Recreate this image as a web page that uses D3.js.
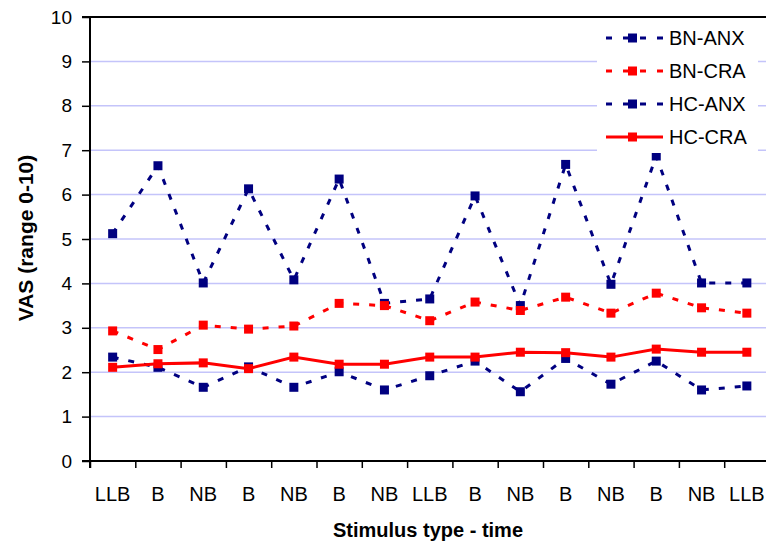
<!DOCTYPE html>
<html>
<head>
<meta charset="utf-8">
<script src="https://d3js.org/d3.v7.min.js"></script>
<style>
  body { margin: 0; background: #fff; }
  svg { font-family: "Liberation Sans", Arial, sans-serif; }
</style>
</head>
<body>
<svg width="766" height="545"></svg>
<script>
// stimulus sequence along the x axis
var categories = ["LLB", "B", "NB", "B", "NB", "B", "NB", "LLB", "B", "NB", "B", "NB", "B", "NB", "LLB"];

var bnAnx = [5.12, 6.65, 4.01, 6.13, 4.08, 6.35, 3.55, 3.65, 5.97, 3.50, 6.68, 3.98, 6.87, 4.01, 4.01];
var bnCra = [2.93, 2.51, 3.06, 2.97, 3.04, 3.55, 3.50, 3.16, 3.58, 3.39, 3.69, 3.33, 3.78, 3.45, 3.33];
var hcAnx = [2.34, 2.11, 1.66, 2.12, 1.66, 2.01, 1.60, 1.92, 2.25, 1.56, 2.31, 1.73, 2.25, 1.60, 1.69];
var hcCra = [2.11, 2.19, 2.21, 2.08, 2.34, 2.18, 2.18, 2.34, 2.34, 2.45, 2.44, 2.34, 2.52, 2.45, 2.45];

var yTicks = [0, 1, 2, 3, 4, 5, 6, 7, 8, 9, 10];

var series = [
  { name: "BN-ANX", values: bnAnx, color: "#000080", dash: "6,10" },
  { name: "BN-CRA", values: bnCra, color: "#ff0000", dash: "6,10" },
  { name: "HC-ANX", values: hcAnx, color: "#000080", dash: "6,10" },
  { name: "HC-CRA", values: hcCra, color: "#ff0000", dash: null }
];

var svg = d3.select("svg");
var plotL = 90, plotT = 17, plotB = 461, plotR = 769.5;

var x = d3.scaleLinear().domain([0, categories.length]).range([plotL, plotR]);
var y = d3.scaleLinear().domain([0, 10]).range([plotB, plotT]);

// gridlines
svg.append("g")
  .selectAll("line")
  .data(yTicks.filter(function(d) { return d > 0 && d < 10; }))
  .enter().append("line")
  .attr("x1", plotL).attr("x2", 766)
  .attr("y1", function(d) { return y(d); })
  .attr("y2", function(d) { return y(d); })
  .attr("stroke", "#c4c4fa")
  .attr("stroke-width", 1.5);

// top border
svg.append("line")
  .attr("x1", 82).attr("x2", 766)
  .attr("y1", plotT).attr("y2", plotT)
  .attr("stroke", "#000").attr("stroke-width", 2);

// y axis
var yAxis = svg.append("g")
  .attr("transform", "translate(" + plotL + ",0)")
  .call(d3.axisLeft(y).tickValues(yTicks).tickSize(8).tickPadding(10).tickFormat(d3.format("d")));
yAxis.select(".domain").remove();
yAxis.selectAll(".tick line").attr("stroke", "#000").attr("stroke-width", 1.5);
yAxis.selectAll("text").attr("font-size", "19px").attr("fill", "#000")
  .attr("font-family", "Liberation Sans, Arial, sans-serif");

// x axis with ticks at category boundaries
var xAxis = svg.append("g")
  .attr("transform", "translate(0," + plotB + ")")
  .call(d3.axisBottom(x).tickValues(d3.range(categories.length + 1)).tickSize(7).tickFormat(""));
xAxis.select(".domain").remove();
xAxis.selectAll(".tick line").attr("stroke", "#000").attr("stroke-width", 1.5);

svg.append("line")
  .attr("x1", 82).attr("x2", 766).attr("y1", plotB).attr("y2", plotB)
  .attr("stroke", "#000").attr("stroke-width", 2);
svg.append("line")
  .attr("x1", plotL).attr("x2", plotL).attr("y1", plotT).attr("y2", plotB + 7)
  .attr("stroke", "#000").attr("stroke-width", 2);

svg.append("g")
  .selectAll("text")
  .data(categories)
  .enter().append("text")
  .attr("x", function(d, i) { return x(i + 0.5); })
  .attr("y", 501)
  .attr("text-anchor", "middle")
  .attr("font-size", "20px")
  .text(function(d) { return d; });

// axis titles
svg.append("text")
  .attr("x", (plotL + 766) / 2).attr("y", 537)
  .attr("text-anchor", "middle")
  .attr("font-size", "20px").attr("font-weight", "bold")
  .text("Stimulus type - time");

svg.append("text")
  .attr("transform", "translate(33,238) rotate(-90)")
  .attr("text-anchor", "middle")
  .attr("font-size", "21px").attr("font-weight", "bold")
  .text("VAS (range 0-10)");

// series
var line = d3.line()
  .x(function(d, i) { return x(i + 0.5); })
  .y(function(d) { return y(d); });

series.forEach(function(s) {
  svg.append("path")
    .datum(s.values)
    .attr("d", line)
    .attr("fill", "none")
    .attr("stroke", s.color)
    .attr("stroke-width", 3)
    .attr("stroke-dasharray", s.dash);

  svg.append("g")
    .selectAll("rect")
    .data(s.values)
    .enter().append("rect")
    .attr("x", function(d, i) { return x(i + 0.5) - 4.5; })
    .attr("y", function(d) { return y(d) - 4.5; })
    .attr("width", 9).attr("height", 9)
    .attr("fill", s.color);
});

// legend
var legend = svg.append("g");
legend.append("rect")
  .attr("x", 597).attr("y", plotT + 1)
  .attr("width", 161).attr("height", 135)
  .attr("fill", "#fff");

var rows = legend.selectAll("g.row")
  .data(series)
  .enter().append("g")
  .attr("class", "row")
  .attr("transform", function(d, i) { return "translate(0," + (38 + i * 33) + ")"; });

rows.append("line")
  .attr("x1", 606).attr("x2", 663)
  .attr("stroke", function(d) { return d.color; })
  .attr("stroke-width", 3)
  .attr("stroke-dasharray", function(d) { return d.dash ? "6,11" : null; });

rows.append("rect")
  .attr("x", 628).attr("y", -4.5).attr("width", 9).attr("height", 9)
  .attr("fill", function(d) { return d.color; });

rows.append("text")
  .attr("x", 669).attr("y", 7)
  .attr("font-size", "20px")
  .text(function(d) { return d.name; });
</script>
</body>
</html>
